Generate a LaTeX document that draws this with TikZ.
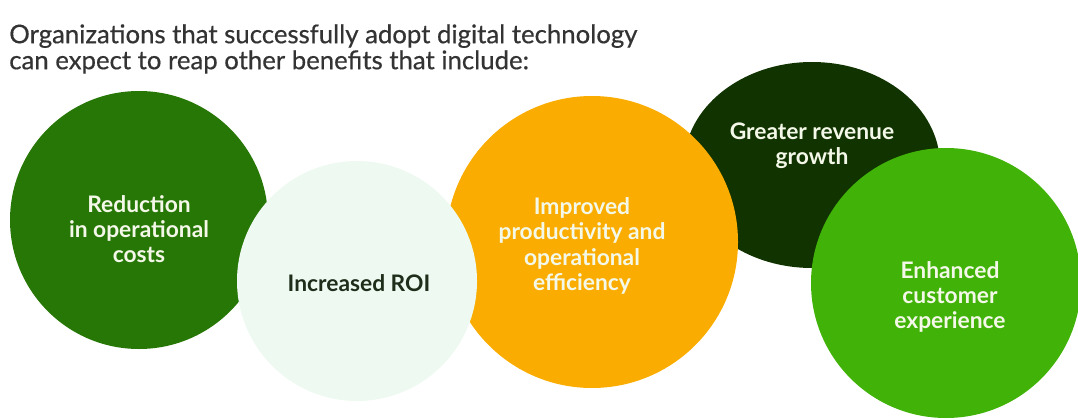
\documentclass[tikz,border=0pt]{standalone}
\usepackage{fontspec}
\setmainfont{Lato}
\newfontfamily\headfont[FakeBold=0.5]{Lato}
\usepackage{xcolor}
\definecolor{Forest}{RGB}{39,119,6}
\definecolor{Mint}{RGB}{238,250,241}
\definecolor{Amber}{RGB}{250,173,0}
\definecolor{Pine}{RGB}{17,51,0}
\definecolor{Leaf}{RGB}{64,178,8}
\definecolor{Cream}{RGB}{244,248,232}
\definecolor{Ink}{RGB}{51,51,51}
\definecolor{Moss}{RGB}{30,46,26}

\tikzset{
	bubbletext/.style={align=center, text=Cream, font=\fontsize{16.2}{18}\selectfont\bfseries, inner sep=0pt},
}

\begin{document}
\begin{tikzpicture}[x=0.025cm, y=-0.025cm]
		
		\useasboundingbox (0,0) rectangle (1078,420);
		
		% Heading
		\node[anchor=north west, align=left, text=Ink, font=\headfont\fontsize{18.3}{18.5}\selectfont, inner sep=0pt] (heading) at (9,24) {Organizations that successfully adopt digital technology\\can expect to reap other benefits that include:};
		
		% Centres
		\coordinate (costs) at (139,220);
		\coordinate (revenue) at (812,165);
		\coordinate (efficiency) at (592,242);
		\coordinate (roi) at (357,281);
		\coordinate (customer) at (946,283);
		
		% Discs, back to front
		\fill[Forest] (costs) circle (129);
		\fill[Pine] (revenue) ellipse (128 and 103);
		\fill[Amber] (efficiency) circle (146);
		\fill[Mint] (roi) circle (120);
		\fill[Leaf] (customer) circle (135);
		
		% Labels
		\node[bubbletext] (costs-txt) at (139,229) {Reduction\\in operational\\costs};
		\node[bubbletext, text=Moss] (roi-txt) at (359,283) {Increased ROI};
		\node[bubbletext] (efficiency-txt) at (582,246) {Improved\\productivity and\\operational\\efficiency};
		\node[bubbletext] (revenue-txt) at (812,146) {Greater revenue\\growth};
		\node[bubbletext] (customer-txt) at (950,297) {Enhanced\\customer\\experience};
		
	\end{tikzpicture}
\end{document}
